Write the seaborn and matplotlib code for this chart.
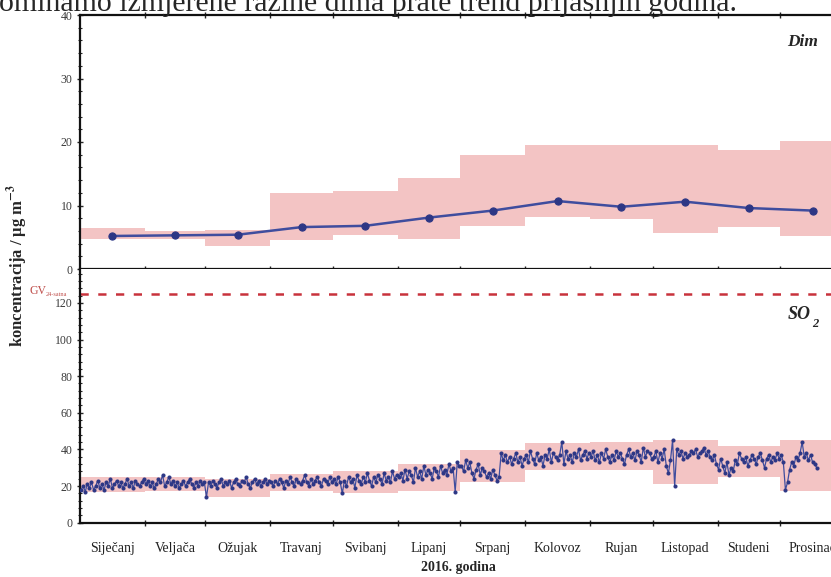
import numpy as np
import pandas as pd
import matplotlib
matplotlib.use("Agg")
import matplotlib.pyplot as plt
import seaborn as sns
from matplotlib.ticker import AutoMinorLocator

# ---------------- data ----------------
months = ['Siječanj', 'Veljača', 'Ožujak', 'Travanj', 'Svibanj', 'Lipanj',
          'Srpanj', 'Kolovoz', 'Rujan', 'Listopad', 'Studeni', 'Prosinac']
month_days = [31, 29, 31, 30, 31, 30, 31, 31, 30, 31, 30, 31]

dim_mean = [5.2, 5.3, 5.4, 6.6, 6.8, 8.1, 9.2, 10.7, 9.8, 10.6, 9.6, 9.2]
dim_low = [4.7, 4.8, 3.7, 4.5, 5.4, 4.7, 6.8, 8.2, 7.8, 5.7, 6.6, 5.2]
dim_high = [6.4, 6.0, 6.2, 12.0, 12.3, 14.4, 18.0, 19.6, 19.6, 19.5, 18.7, 20.2]

so2_low = [16.5, 17.3, 14.2, 17.5, 16.0, 17.5, 22.4, 28.5, 28.5, 21.0, 25.0, 17.5]
so2_high = [25.1, 24.9, 23.8, 26.5, 28.4, 32.0, 39.6, 43.3, 43.8, 45.1, 42.0, 45.1]

so2_jan = [18, 20, 17, 21, 19, 22, 18, 20, 23, 19, 21, 18, 22, 20, 24, 19, 21, 23, 20, 22,
           19, 21, 24, 20, 22, 19, 23, 21, 20, 22, 24]
so2_feb = [21, 23, 20, 22, 19, 21, 24, 22, 26, 20, 22, 25, 21, 23, 20, 22, 19, 21, 23, 20,
           22, 24, 21, 19, 22, 20, 23, 21, 22]
so2_mar = [14, 22, 20, 23, 21, 19, 22, 24, 20, 22, 21, 23, 19, 22, 24, 21, 20, 23, 22, 25,
           21, 19, 22, 24, 21, 23, 20, 22, 24, 21, 23]
so2_apr = [22, 20, 23, 21, 24, 22, 19, 23, 21, 25, 22, 20, 24, 22, 21, 23, 26, 22, 20, 24,
           21, 23, 25, 22, 20, 24, 23, 21, 25, 22]
so2_may = [24, 21, 25, 22, 16, 23, 20, 25, 22, 24, 19, 26, 23, 21, 25, 22, 27, 23, 20, 25,
           22, 26, 24, 21, 27, 23, 25, 22, 28, 24, 26]
so2_jun = [25, 27, 23, 29, 24, 28, 26, 22, 30, 25, 28, 24, 31, 26, 29, 27, 24, 30, 28, 25,
           31, 27, 29, 26, 32, 28, 30, 17, 33, 31]
so2_jul = [31, 28, 34, 30, 33, 27, 24, 29, 32, 26, 30, 28, 25, 27, 24, 29, 26, 23, 25, 38,
           34, 37, 33, 36, 32, 35, 38, 33, 36, 31, 35]
so2_aug = [37, 33, 39, 35, 32, 38, 34, 36, 31, 37, 35, 40, 33, 38, 36, 34, 37, 44, 32, 39,
           35, 37, 33, 38, 36, 40, 34, 37, 39, 35, 38]
so2_sep = [36, 39, 34, 37, 33, 38, 35, 40, 36, 33, 37, 34, 39, 36, 38, 35, 32, 37, 40, 36,
           38, 34, 39, 37, 33, 41, 36, 39, 38, 35]
so2_oct = [36, 39, 33, 38, 35, 40, 31, 27, 34, 45, 20, 40, 37, 39, 35, 38, 36, 37, 39, 38,
           40, 36, 38, 39, 41, 37, 39, 36, 34, 37, 32]
so2_nov = [29, 35, 31, 27, 33, 26, 30, 28, 34, 32, 38, 35, 33, 36, 31, 34, 37, 35, 32, 36,
           38, 34, 30, 35, 37, 33, 36, 34, 38, 35]
so2_dec = [37, 33, 18, 22, 29, 33, 31, 36, 34, 38, 44, 36, 38, 34, 37, 33, 32, 30]

gv_so2 = 125
top_text = "ominamo izmjerene razine dima prate trend prijašnjih godina."

# ---------------- derived ----------------
so2_daily = (so2_jan + so2_feb + so2_mar + so2_apr + so2_may + so2_jun + so2_jul +
             so2_aug + so2_sep + so2_oct + so2_nov + so2_dec)
starts = np.concatenate([[0], np.cumsum(month_days)[:-1]])
centers = starts + np.array(month_days) / 2.0
total_days = int(np.sum(month_days))

dim_df = pd.DataFrame({"day": centers, "val": dim_mean})
so2_df = pd.DataFrame({"day": np.arange(len(so2_daily)) + 0.5, "val": so2_daily})

# ---------------- style ----------------
sns.set_style("ticks")
plt.rcParams['font.family'] = ['Liberation Serif', 'DejaVu Serif']
plt.rcParams['mathtext.fontset'] = 'stix'

band_col = '#f3c4c4'
line_col = '#3f4d9e'
mark_col = '#2d3785'
tick_col = '#3a3a3a'

W, H = 831, 577
fig = plt.figure(figsize=(W / 100, H / 100), dpi=100)
left = 80 / W
width = 765 / W
ax1 = fig.add_axes([left, 1 - 269 / H, width, 254 / H])
ax2 = fig.add_axes([left, 1 - 522.7 / H, width, 253.7 / H])

# top panel: Dim
ax1.bar(starts, np.array(dim_high) - np.array(dim_low), bottom=dim_low,
        width=month_days, align='edge', color=band_col, linewidth=0, zorder=1)
sns.lineplot(data=dim_df, x="day", y="val", ax=ax1, color=line_col, linewidth=1.8,
             marker='o', markersize=5.2, markerfacecolor=mark_col,
             markeredgecolor=mark_col, zorder=3)
ax1.set_ylim(0, 40)

# bottom panel: SO2
ax2.bar(starts, np.array(so2_high) - np.array(so2_low), bottom=so2_low,
        width=month_days, align='edge', color=band_col, linewidth=0, zorder=1)
sns.lineplot(data=so2_df, x="day", y="val", ax=ax2, color=line_col, linewidth=0.9,
             marker='o', markersize=2.2, markerfacecolor=mark_col,
             markeredgecolor=mark_col, zorder=3)
ax2.axhline(gv_so2, color='#c8323c', linewidth=1.8, dashes=(3.3, 3.8), zorder=2)
ax2.set_ylim(0, 138.5)

for ax in (ax1, ax2):
    ax.set_xlim(0, total_days)
    ax.set_xlabel("")
    ax.set_ylabel("")
    ax.set_xticks(starts[1:])
    ax.set_xticklabels([])
    for s in ax.spines.values():
        s.set_linewidth(1.6)
        s.set_color('#111111')
    ax.spines['right'].set_visible(False)
    ax.tick_params(axis='y', which='major', direction='inout', length=5, width=1.0,
                   labelsize=8.5, labelcolor=tick_col, pad=3)
    ax.tick_params(axis='y', which='minor', direction='inout', length=3, width=0.8)
    ax.tick_params(axis='x', which='major', direction='inout', length=5, width=1.0)
    ax.yaxis.set_minor_locator(AutoMinorLocator(5))

ax1.set_yticks([0, 10, 20, 30, 40])
ax1.tick_params(axis='x', which='major', top=True)
ax2.set_yticks([0, 20, 40, 60, 80, 100, 120])
ax2.spines['top'].set_visible(False)
ax2.set_xticks(centers, minor=True)
ax2.set_xticklabels(months, minor=True)
ax2.tick_params(axis='x', which='minor', length=0, labelsize=10, labelcolor='#222222',
                pad=14)

# texts
fig.text(818 / W, 1 - 42 / H, 'Dim', ha='right', va='center', fontsize=12.5,
         fontweight='bold', fontstyle='italic')
fig.text(811 / W, 1 - 315 / H, 'SO', ha='right', va='center', fontsize=13,
         fontweight='bold', fontstyle='italic')
fig.text(812 / W, 1 - 324 / H, '2', ha='left', va='center', fontsize=9,
         fontweight='bold', fontstyle='italic')
fig.text(29 / W, 1 - 291 / H, 'GV', ha='left', va='center', fontsize=8.5,
         color='#c0504d')
fig.text(46 / W, 1 - 295 / H, '24-satna', ha='left', va='center', fontsize=4.5,
         color='#c0504d')
fig.text(18 / W, 1 - 265 / H, r'koncentracija / µg m$^{\mathbf{-3}}$', rotation=90,
         ha='center', va='center', fontsize=12, fontweight='bold')
fig.text(458 / W, 1 - 567 / H, '2016. godina', ha='center', va='center', fontsize=10,
         fontweight='bold')
fig.text(-1 / W, 1 - 11 / H, top_text, ha='left', va='baseline', fontsize=21.5)

fig.savefig("out.png", dpi=100)
